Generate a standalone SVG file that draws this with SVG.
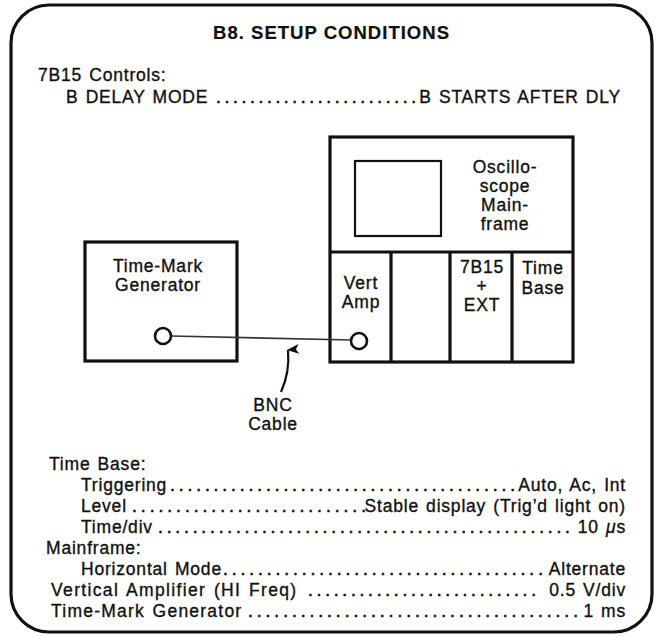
<svg xmlns="http://www.w3.org/2000/svg" width="658" height="637" viewBox="0 0 658 637">
<style>
  text { font-family: "Liberation Sans", Arial, sans-serif; font-size: 17.5px; fill: #111; stroke: #111; stroke-width: 0.35; letter-spacing: 0.8px; word-spacing: 1.5px; }
  .title { font-weight: bold; font-size: 18.5px; letter-spacing: 0; word-spacing: 0; stroke-width: 0.2; }
  .dots { letter-spacing: 0; word-spacing: 0; stroke-width: 0.6; }
  .mid { text-anchor: middle; }
  .end { text-anchor: end; }
  .box { fill: #fff; stroke: #111; stroke-width: 3.2; }
  .thin { fill: none; stroke: #111; stroke-width: 2.2; }
  .jack { fill: #fff; stroke: #111; stroke-width: 2.6; }
  .cable { fill: none; stroke: #333; stroke-width: 1.6; }
</style>
<defs>
  <marker id="arrow" markerWidth="10" markerHeight="12" refX="5" refY="1" orient="auto-start-reverse" markerUnits="userSpaceOnUse" viewBox="0 0 10 12">
    <path d="M5,0 L10,12 L5,9 L0,12 Z" fill="#111"/>
  </marker>
</defs>
<rect x="11" y="5" width="641" height="627" rx="38" ry="38" fill="none" stroke="#111" stroke-width="3.2"/>

<text class="title" x="213" y="39" textLength="236" lengthAdjust="spacing">B8. SETUP CONDITIONS</text>

<g id="controls">
  <text x="38" y="81">7B15 Controls:</text>
  <text x="66" y="103">B DELAY MODE</text>
  <text class="dots" x="216" y="103" textLength="200" lengthAdjust="spacing">........................</text>
  <text class="end" x="621" y="103">B STARTS AFTER DLY</text>
</g>

<g id="time-mark-generator">
  <rect class="box" x="85" y="242" width="152" height="119"/>
  <text class="mid" x="158" y="272">Time-Mark</text>
  <text class="mid" x="158" y="291">Generator</text>
  <circle class="jack" cx="163" cy="336" r="8"/>
</g>

<g id="mainframe">
  <rect class="box" x="330" y="137" width="243" height="225"/>
  <line class="box" x1="330" y1="252" x2="573" y2="252"/>
  <rect class="thin" x="355" y="161" width="86" height="75"/>
  <text class="mid" x="505" y="173">Oscillo-</text>
  <text class="mid" x="505" y="192">scope</text>
  <text class="mid" x="505" y="211">Main-</text>
  <text class="mid" x="505" y="230">frame</text>
  <line class="box" x1="391" y1="252" x2="391" y2="362"/>
  <line class="box" x1="450" y1="252" x2="450" y2="362"/>
  <line class="box" x1="512" y1="252" x2="512" y2="362"/>
</g>

<g id="vert-amp">
  <text class="mid" x="361" y="289">Vert</text>
  <text class="mid" x="361" y="308">Amp</text>
  <circle class="jack" cx="359" cy="341" r="8"/>
</g>

<g id="plugin-7b15">
  <text class="mid" x="482" y="273">7B15</text>
  <text class="mid" x="482" y="292">+</text>
  <text class="mid" x="482" y="311">EXT</text>
</g>

<g id="time-base">
  <text class="mid" x="543" y="274">Time</text>
  <text class="mid" x="543" y="294">Base</text>
</g>

<g id="connectors">
  <path class="cable" d="M171,336 L351,340"/>
  <path d="M281,392 Q290,372 288,350" fill="none" stroke="#111" stroke-width="2.2" marker-end="url(#arrow)"/>
</g>

<g id="bnc-label">
  <text class="mid" x="273" y="411">BNC</text>
  <text class="mid" x="273" y="430">Cable</text>
</g>

<g id="settings">
  <text x="49" y="470">Time Base:</text>

  <text x="81" y="491">Triggering</text>
  <text class="dots" x="170" y="491" textLength="345" lengthAdjust="spacing">........................................</text>
  <text class="end" x="626" y="491">Auto, Ac, Int</text>

  <text x="81" y="512">Level</text>
  <text class="dots" x="132" y="512" textLength="234" lengthAdjust="spacing">...........................</text>
  <text class="end" x="626" y="512">Stable display (Trig’d light on)</text>

  <text x="81" y="533">Time/div</text>
  <text class="dots" x="158" y="533" textLength="412" lengthAdjust="spacing">................................................</text>
  <text class="end" x="626" y="533">10 <tspan font-style="italic">μ</tspan>s</text>

  <text x="46" y="554">Mainframe:</text>

  <text x="81" y="575">Horizontal Mode</text>
  <text class="dots" x="223" y="575" textLength="320" lengthAdjust="spacing">.....................................</text>
  <text class="end" x="626" y="575">Alternate</text>

  <text x="51" y="596" textLength="246" lengthAdjust="spacing">Vertical Amplifier (HI Freq)</text>
  <text class="dots" x="308" y="596" textLength="228" lengthAdjust="spacing">...........................</text>
  <text class="end" x="626" y="596">0.5 V/div</text>

  <text x="51" y="617" textLength="191" lengthAdjust="spacing">Time-Mark Generator</text>
  <text class="dots" x="248" y="617" textLength="330" lengthAdjust="spacing">......................................</text>
  <text class="end" x="626" y="617">1 ms</text>
</g>
</svg>
